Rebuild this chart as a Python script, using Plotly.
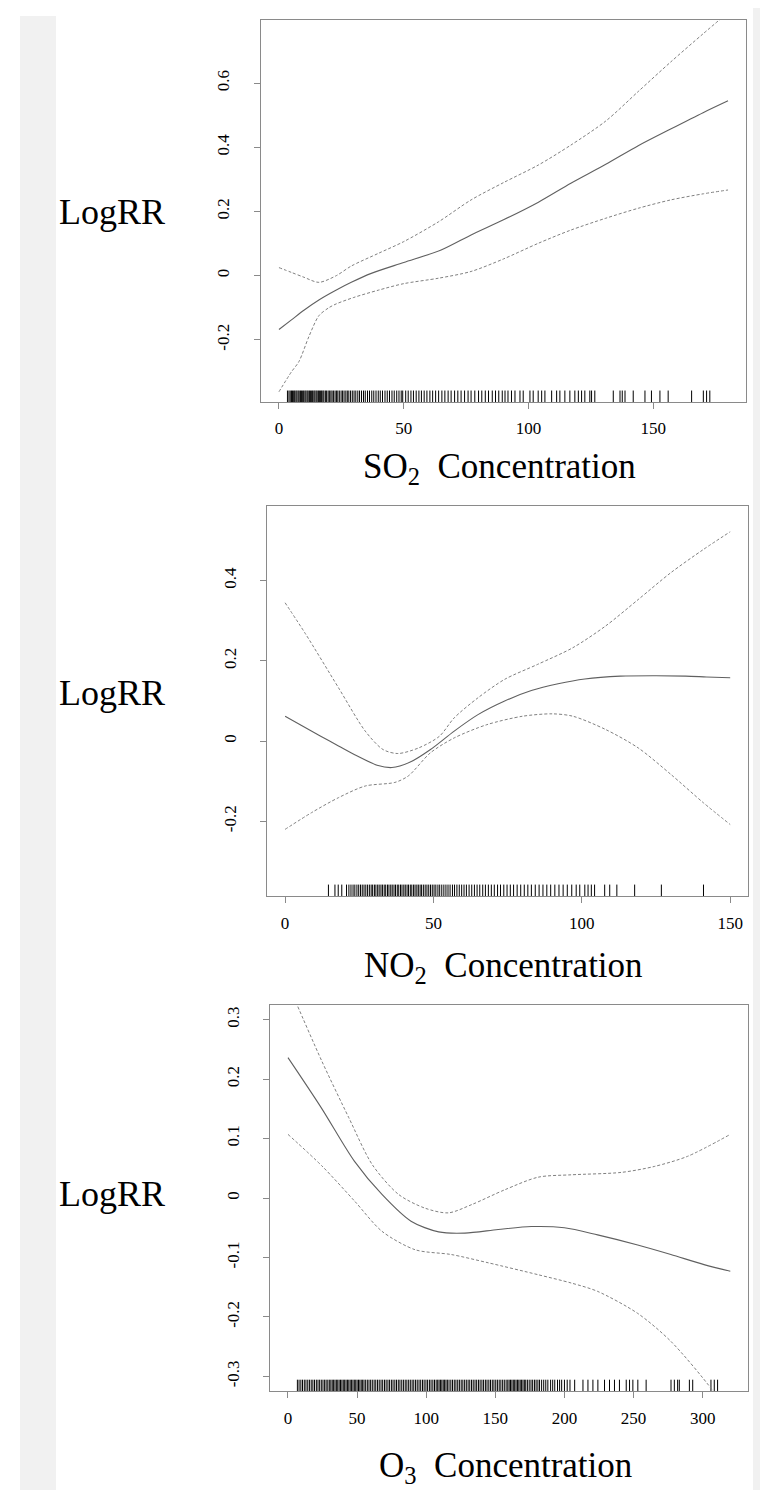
import plotly.graph_objects as go

W, H = 768, 1490

# ---------------- data ----------------
so2_x = [0, 5, 10, 16, 23, 29, 37, 50, 65, 77, 90, 104, 117, 131, 144, 157, 170, 180]
so2_fit = [-0.168, -0.138, -0.108, -0.076, -0.045, -0.021, 0.007, 0.041, 0.080, 0.127, 0.174,
           0.229, 0.288, 0.347, 0.405, 0.457, 0.508, 0.545]
so2_ux = [0, 5, 10, 16, 23, 29, 40, 50, 64, 77, 90, 104, 117, 131, 144, 157, 170, 180]
so2_upper = [0.025, 0.010, -0.005, -0.021, 0.000, 0.030, 0.070, 0.106, 0.168, 0.236, 0.290,
             0.345, 0.407, 0.482, 0.574, 0.666, 0.754, 0.820]
so2_lx = [0, 5, 8, 12, 16, 20, 23, 30, 40, 50, 64, 77, 90, 104, 117, 131, 144, 157, 170, 180]
so2_lower = [-0.362, -0.300, -0.268, -0.190, -0.125, -0.100, -0.088, -0.068, -0.045, -0.025,
             -0.008, 0.013, 0.052, 0.101, 0.142, 0.179, 0.210, 0.236, 0.255, 0.267]
so2_rug = [3.4, 4.0, 4.5, 5.0, 5.4, 5.9, 6.3, 6.8, 7.2, 7.7, 8.1, 8.6, 9.0, 9.5, 9.9, 10.4, 10.8,
           11.3, 11.7, 12.2, 12.6, 13.1, 13.5, 14.0, 14.4, 14.9, 15.3, 15.8, 16.2, 16.7, 17.1,
           17.6, 18.0, 18.6, 19.1, 19.7, 20.2, 20.8, 21.3, 21.9, 22.5, 23.1, 23.6, 24.2, 24.9,
           25.5, 26.1, 26.8, 27.4, 28.0, 28.7, 29.4, 30.1, 30.8, 31.6, 32.3, 33.1, 33.9, 34.6,
           35.5, 36.3, 37.2, 38.0, 38.9, 39.8, 40.6, 41.5, 42.5, 43.4, 44.3, 45.3, 46.2, 47.2,
           48.1, 49.0, 49.6, 50.8, 51.8, 52.9, 53.9, 55.0, 56.1, 57.1, 58.2, 59.3, 60.5, 61.6,
           62.8, 64.0, 65.3, 66.5, 67.8, 69.0, 70.4, 71.7, 73.0, 74.4, 75.8, 77.0, 78.5, 80.0,
           81.3, 82.7, 84.0, 85.5, 86.8, 88.1, 89.5, 90.6, 91.8, 93.2, 94.6, 96.6, 97.9, 100.6,
           101.9, 103.9, 105.3, 106.6, 109.3, 111.3, 112.6, 114.6, 116.6, 118.6, 120.0, 121.3,
           122.6, 124.6, 125.3, 126.6, 134.0, 136.7, 137.6, 138.7, 142.0, 146.7, 149.3, 152.7,
           156.0, 165.4, 170.1, 171.4, 172.7]

no2_x = [0, 6, 12, 18, 24, 31, 36, 42, 49, 57, 65, 74, 83, 92, 101, 113, 125, 135, 142, 150]
no2_fit = [0.062, 0.037, 0.012, -0.012, -0.036, -0.060, -0.066, -0.053, -0.021, 0.025, 0.066,
           0.100, 0.126, 0.143, 0.155, 0.162, 0.163, 0.162, 0.160, 0.158]
no2_ux = [0, 7, 18, 27, 33, 38, 45, 52, 57, 65, 74, 85, 97, 108, 119, 130, 141, 150]
no2_upper = [0.345, 0.266, 0.133, 0.025, -0.021, -0.031, -0.017, 0.012, 0.058, 0.108, 0.154,
             0.191, 0.233, 0.287, 0.353, 0.420, 0.478, 0.522]
no2_lx = [0, 9, 18, 27, 37, 41.5, 49, 57, 68, 80, 90, 97, 108, 119, 130, 141, 150]
no2_lower = [-0.220, -0.178, -0.141, -0.112, -0.103, -0.087, -0.029, 0.008, 0.041, 0.062, 0.068,
             0.062, 0.029, -0.017, -0.083, -0.154, -0.208]
no2_rug = [14.6, 16.8, 17.9, 19.1, 20.7, 21.5, 22.2, 22.9, 23.5, 24.2, 24.8, 25.4, 26.0, 26.6,
           27.2, 27.8, 28.4, 29.0, 29.5, 30.1, 30.6, 31.2, 31.7, 32.3, 32.8, 33.4, 33.9, 34.5,
           35.0, 35.6, 36.1, 36.7, 37.2, 37.8, 38.3, 38.9, 39.4, 40.0, 40.5, 41.1, 41.6, 42.2,
           42.7, 43.3, 43.8, 44.4, 44.9, 45.5, 46.0, 46.6, 47.2, 47.8, 48.4, 49.0, 49.6, 50.2,
           50.8, 51.5, 52.1, 52.8, 53.5, 54.2, 54.9, 55.6, 56.4, 57.1, 57.9, 58.7, 59.5, 60.3,
           61.1, 62.0, 62.9, 63.8, 64.7, 65.6, 66.6, 67.5, 68.5, 69.5, 70.5, 71.6, 72.6, 73.7,
           74.8, 75.9, 77.0, 78.2, 79.4, 80.6, 81.8, 83.0, 84.3, 85.6, 86.9, 88.2, 89.5, 90.9,
           92.3, 93.7, 95.1, 96.6, 98.1, 99.3, 101.0, 102.1, 103.2, 104.3, 107.7, 109.4, 111.8,
           117.8, 126.8, 141.0]

o3_x = [0, 24, 48, 68, 89, 109, 128, 152, 176, 200, 224, 253, 277, 301, 320]
o3_fit = [0.236, 0.152, 0.062, 0.006, -0.039, -0.057, -0.059, -0.053, -0.048, -0.050, -0.062,
          -0.079, -0.095, -0.112, -0.123]
o3_ux = [0, 6.5, 24.5, 44, 61, 80, 99, 116, 133, 157, 181, 205, 241, 265, 289, 320]
o3_upper = [0.360, 0.325, 0.230, 0.135, 0.056, 0.006, -0.017, -0.025, -0.011, 0.014, 0.035,
            0.039, 0.043, 0.053, 0.070, 0.107]
o3_lx = [0, 24.5, 48.5, 68, 92, 118, 145, 181, 205, 224, 253, 277, 307, 320]
o3_lower = [0.107, 0.054, -0.006, -0.056, -0.087, -0.095, -0.109, -0.129, -0.143, -0.157,
            -0.194, -0.241, -0.323, -0.370]
o3_rug = [6.8, 8.0, 9.3, 10.5, 11.8, 13.0, 14.3, 15.5, 16.8, 18.0, 19.2, 20.5, 21.7, 22.9, 24.1,
          25.3, 26.5, 27.6, 28.8, 29.9, 31.0, 32.0, 33.0, 34.0, 35.0, 36.0, 37.0, 38.0, 39.0,
          40.0, 41.0, 42.0, 43.0, 44.0, 45.0, 46.0, 47.0, 48.0, 49.0, 50.0, 51.0, 52.0, 53.0,
          54.0, 55.0, 56.2, 57.4, 58.6, 59.8, 61.0, 62.3, 63.5, 64.8, 66.0, 67.3, 68.5, 69.8,
          71.0, 72.3, 73.5, 74.8, 76.0, 77.3, 78.5, 79.8, 81.0, 82.3, 83.5, 84.8, 86.0, 87.3,
          88.5, 89.8, 91.0, 92.3, 93.5, 94.8, 96.0, 97.3, 98.5, 99.8, 101.0, 102.3, 103.5,
          104.8, 106.0, 107.2, 108.3, 109.3, 110.3, 111.3, 112.3, 113.3, 114.3, 115.3, 116.5,
          117.8, 119.0, 120.3, 121.5, 122.8, 124.0, 125.3, 126.5, 127.8, 129.0, 130.3, 131.5,
          132.8, 134.0, 135.3, 136.5, 137.8, 139.0, 140.3, 141.5, 142.8, 144.0, 145.3, 146.5,
          147.8, 149.0, 150.3, 151.5, 152.8, 154.0, 155.3, 156.5, 157.8, 159.0, 160.0, 161.0,
          162.0, 163.0, 164.0, 165.0, 166.0, 167.0, 168.0, 169.0, 170.0, 171.0, 172.0, 173.2,
          174.5, 175.8, 177.0, 178.3, 179.5, 180.8, 182.0, 183.5, 185.0, 186.5, 188.0, 190.0,
          191.5, 193.0, 195.0, 196.5, 198.0, 200.0, 202.0, 204.0, 207.4, 213.4, 217.0, 220.6,
          224.2, 229.0, 232.6, 236.2, 239.8, 244.7, 247.1, 249.5, 253.1, 259.1, 277.1, 279.5,
          281.9, 283.1, 290.4, 292.8, 306.0, 308.4, 310.8]

panels = [
    dict(x=so2_x, fit=so2_fit, ux=so2_ux, up=so2_upper, lx=so2_lx, lo=so2_lower, rug=so2_rug,
         xr=[-7.2, 187.2], yr=[-0.394, 0.797], xt=[0, 50, 100, 150],
         yt=[-0.2, 0, 0.2, 0.4, 0.6], ytt=["-0.2", "0", "0.2", "0.4", "0.6"],
         box=(253, 738, 12, 394), title="SO<sub>2</sub>  Concentration", title_y=460,
         lab_y=204),
    dict(x=no2_x, fit=no2_fit, ux=no2_ux, up=no2_upper, lx=no2_lx, lo=no2_lower, rug=no2_rug,
         xr=[-6, 156], yr=[-0.387, 0.587], xt=[0, 50, 100, 150],
         yt=[-0.2, 0, 0.2, 0.4], ytt=["-0.2", "0", "0.2", "0.4"],
         box=(259.3, 740, 497.7, 888.3), title="NO<sub>2</sub>  Concentration", title_y=960,
         lab_y=685),
    dict(x=o3_x, fit=o3_fit, ux=o3_ux, up=o3_upper, lx=o3_lx, lo=o3_lower, rug=o3_rug,
         xr=[-12.8, 332.8], yr=[-0.325, 0.325], xt=[0, 50, 100, 150, 200, 250, 300],
         yt=[-0.3, -0.2, -0.1, 0, 0.1, 0.2, 0.3],
         ytt=["-0.3", "-0.2", "-0.1", "0", "0.1", "0.2", "0.3"],
         box=(262.3, 740, 996.7, 1383.3), title="O<sub>3</sub>  Concentration", title_y=1459,
         lab_y=1186),
]

SERIF = "Liberation Serif, Times New Roman, serif"
fig = go.Figure()
layout = dict(width=W, height=H, margin=dict(l=0, r=0, t=0, b=0),
              paper_bgcolor="white", plot_bgcolor="white", showlegend=False,
              annotations=[], shapes=[])

for i, p in enumerate(panels):
    n = "" if i == 0 else str(i + 1)
    xa, ya = "x" + n, "y" + n
    x0, x1, y0, y1 = p["box"]
    # rug
    rx, ry = [], []
    span = p["yr"][1] - p["yr"][0]
    for v in p["rug"]:
        rx += [v, v, None]
        ry += [p["yr"][0], p["yr"][0] + 0.03 * span, None]
    fig.add_trace(go.Scatter(x=rx, y=ry, mode="lines", xaxis=xa, yaxis=ya,
                             line=dict(color="#000000", width=1), hoverinfo="skip"))
    fig.add_trace(go.Scatter(x=p["ux"], y=p["up"], mode="lines", xaxis=xa, yaxis=ya,
                             line=dict(color="#808080", width=1, dash="3px,2px", shape="spline",
                                       smoothing=0.8)))
    fig.add_trace(go.Scatter(x=p["lx"], y=p["lo"], mode="lines", xaxis=xa, yaxis=ya,
                             line=dict(color="#808080", width=1, dash="3px,2px", shape="spline",
                                       smoothing=0.8)))
    fig.add_trace(go.Scatter(x=p["x"], y=p["fit"], mode="lines", xaxis=xa, yaxis=ya,
                             line=dict(color="#606060", width=1.1, shape="spline", smoothing=0.8)))
    axcommon = dict(showgrid=False, zeroline=False, showline=True, mirror=True,
                    linecolor="#8a8a8a", linewidth=1, ticks="outside", ticklen=6,
                    tickcolor="#8a8a8a", tickwidth=1,
                    tickfont=dict(family=SERIF, size=17, color="black"))
    layout["xaxis" + n] = dict(axcommon, domain=[x0 / W, x1 / W], range=p["xr"],
                               tickvals=p["xt"], anchor=ya, ticklabelstandoff=5)
    layout["yaxis" + n] = dict(axcommon, domain=[1 - y1 / H, 1 - y0 / H], range=p["yr"],
                               tickvals=p["yt"], ticktext=p["ytt"], tickangle=-90,
                               anchor=xa, ticklabelstandoff=18)
    layout["annotations"].append(dict(
        text="LogRR", x=49 / W, y=1 - p["lab_y"] / H, xref="paper", yref="paper",
        xanchor="left", yanchor="middle", showarrow=False,
        font=dict(family=SERIF, size=36, color="black")))
    layout["annotations"].append(dict(
        text=p["title"], x=((x0 + x1) / 2 - 4) / W, y=1 - p["title_y"] / H, xref="paper",
        yref="paper", xanchor="center", yanchor="middle", showarrow=False,
        font=dict(family=SERIF, size=35, color="black")))

layout["shapes"] = [
    dict(type="rect", xref="paper", yref="paper", x0=12 / W, x1=48 / W, y0=0, y1=1 - 8 / H,
         fillcolor="#f1f1f1", line=dict(width=0), layer="below"),
    dict(type="rect", xref="paper", yref="paper", x0=745 / W, x1=1, y0=0, y1=1,
         fillcolor="#f1f1f1", line=dict(width=0), layer="below"),
]
fig.update_layout(**layout)
fig.write_html("out.html")
